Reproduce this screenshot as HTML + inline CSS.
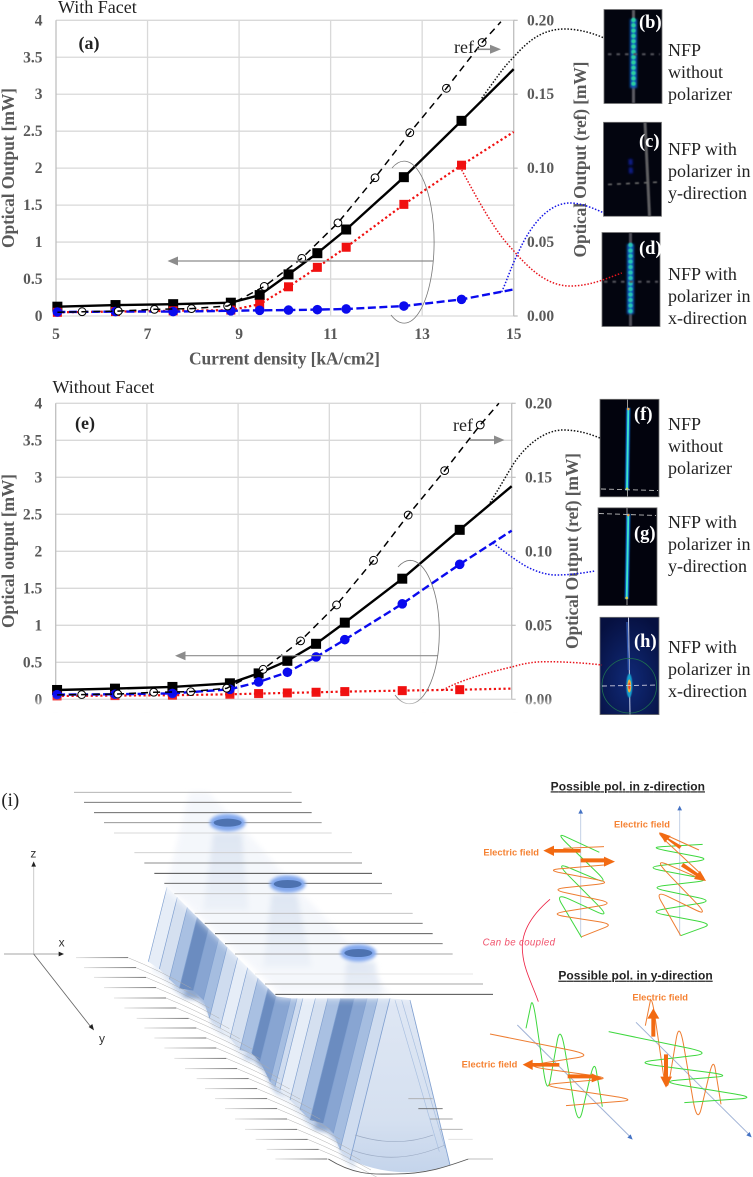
<!DOCTYPE html>
<html lang="en">
<head>
<meta charset="utf-8">
<title>Optical output versus current density with and without facet</title>
<style>
html,body{margin:0;padding:0;background:#fff}
svg{display:block}
.tick{font:bold 15.5px "Liberation Serif",serif;fill:#595959}
.atitle{font:bold 17.5px "Liberation Serif",serif;fill:#595959}
.ser{font:18px "Liberation Serif",serif;fill:#222}
.bold{font:bold 18px "Liberation Serif",serif;fill:#222}
.wb{font:bold 18.5px "Liberation Serif",serif;fill:#fff}
.head{font:bold 36px "Liberation Sans",sans-serif;fill:#222;text-decoration:underline}
.ef{font:bold 28px "Liberation Sans",sans-serif;fill:#f58233}
</style>
</head>
<body>
<svg id="fig" xmlns="http://www.w3.org/2000/svg" width="753" height="1177" viewBox="0 0 753 1177">
<defs>
<filter id="b1" filterUnits="userSpaceOnUse" x="0" y="0" width="753" height="1177"><feGaussianBlur stdDeviation="1"/></filter>
<filter id="b06" filterUnits="userSpaceOnUse" x="0" y="0" width="753" height="1177"><feGaussianBlur stdDeviation="0.6"/></filter>
<filter id="b5" x="-60%" y="-100%" width="220%" height="300%"><feGaussianBlur stdDeviation="5"/></filter>
<filter id="b6" x="-20%" y="-20%" width="140%" height="140%"><feGaussianBlur stdDeviation="6"/></filter>
<filter id="b8" x="-50%" y="-50%" width="200%" height="200%"><feGaussianBlur stdDeviation="8"/></filter>
<filter id="b14" x="-10%" y="-10%" width="120%" height="120%"><feGaussianBlur stdDeviation="12"/></filter>
<linearGradient id="fan" x1="0" y1="0" x2="0" y2="1"><stop offset="0" stop-color="#dfe7f4"/><stop offset=".7" stop-color="#d5e0f0"/><stop offset="1" stop-color="#c4d4eb"/></linearGradient>
<linearGradient id="col" x1="0" y1="0" x2="0" y2="1"><stop offset="0" stop-color="#d4deee" stop-opacity=".7"/><stop offset="1" stop-color="#dde5f2" stop-opacity=".35"/></linearGradient>
<linearGradient id="ribfade" x1="0" y1="0" x2="1" y2="0"><stop offset="0" stop-color="#ddd"/><stop offset="1" stop-color="#555"/></linearGradient>
<radialGradient id="hbg" cx="50%" cy="65%" r="70%"><stop offset="0" stop-color="#102a78"/><stop offset="1" stop-color="#061040"/></radialGradient>
</defs>

<g id="chart-a"></g>
<g id="chart-e"></g>

<text class="ser" x="58" y="13">With Facet</text>
<text class="ser" x="52.5" y="393">Without Facet</text>
<text class="bold" x="78.5" y="49">(a)</text>
<text class="bold" x="75" y="429">(e)</text>
<text class="ser" x="454" y="53">ref</text>
<text class="ser" x="453" y="431">ref</text>

<!-- axis titles -->
<text class="atitle" x="284.500" y="364.500" text-anchor="middle" textLength="191">Current density [kA/cm2]</text>
<text class="atitle" x="283" y="747.500" text-anchor="middle" textLength="191">Current density [kA/cm2]</text>
<text class="atitle" transform="translate(14,168) rotate(-90)" text-anchor="middle" textLength="160">Optical Output [mW]</text>
<text class="atitle" transform="translate(14,551) rotate(-90)" text-anchor="middle" textLength="154">Optical output [mW]</text>
<text class="atitle" transform="translate(586,159.500) rotate(-90)" text-anchor="middle" textLength="196">Optical Output (ref) [mW]</text>
<text class="atitle" transform="translate(578,551) rotate(-90)" text-anchor="middle" textLength="196">Optical Output (ref) [mW]</text>

<!-- NFP image b -->
<g>
<rect x="604" y="9.500" width="58" height="94" fill="#03050f" stroke="#777" stroke-width=".8"/>
<line x1="633.500" y1="10" x2="633.500" y2="103" stroke="#5a5a62" stroke-width="3" filter="url(#b06)"/>
<line x1="633.500" y1="19" x2="633.500" y2="88" stroke="#0a55b8" stroke-width="7" filter="url(#b1)"/>
<line x1="633.500" y1="20" x2="633.500" y2="87" stroke="#2bd0a0" stroke-width="4.500" stroke-linecap="round" stroke-dasharray="0.1 5.2" filter="url(#b06)"/>
<line x1="608" y1="54.300" x2="660" y2="54.300" stroke="#55555c" stroke-width="2" stroke-dasharray="3.500 5" filter="url(#b06)"/>
<text class="wb" x="639" y="28">(b)</text>
</g>
<!-- NFP image c -->
<g>
<rect x="603.500" y="122.300" width="58" height="94" fill="#03050f" stroke="#777" stroke-width=".8"/>
<line x1="645" y1="122.500" x2="649.500" y2="216" stroke="#5e5e62" stroke-width="3" filter="url(#b06)"/>
<line x1="630.500" y1="159" x2="631" y2="176" stroke="#0a1a86" stroke-width="4" stroke-dasharray="6 2.500" filter="url(#b1)"/>
<line x1="608" y1="184.500" x2="661" y2="182" stroke="#6a6a6a" stroke-width="1.600" stroke-dasharray="4 5" filter="url(#b06)"/>
<text class="wb" x="639" y="147">(c)</text>
</g>
<!-- NFP image d -->
<g>
<rect x="602" y="232.500" width="58" height="94" fill="#03050f" stroke="#777" stroke-width=".8"/>
<line x1="630.500" y1="233" x2="630.500" y2="326" stroke="#4e4e56" stroke-width="3" filter="url(#b06)"/>
<line x1="630.500" y1="244" x2="630.500" y2="314" stroke="#0a55b8" stroke-width="7" filter="url(#b1)"/>
<line x1="630.500" y1="245" x2="630.500" y2="313" stroke="#26c4b4" stroke-width="4.500" stroke-linecap="round" stroke-dasharray="0.1 5.4" filter="url(#b06)"/>
<line x1="604" y1="281.700" x2="658" y2="281.700" stroke="#55555c" stroke-width="2" stroke-dasharray="3.500 5" filter="url(#b06)"/>
<text class="wb" x="639" y="254">(d)</text>
</g>
<!-- NFP image f -->
<g>
<rect x="600" y="399.300" width="59" height="97.500" fill="#02030d" stroke="#777" stroke-width=".8"/>
<line x1="627.500" y1="399.500" x2="627.500" y2="496.500" stroke="#9a9a9a" stroke-width="1"/>
<line x1="628.300" y1="408" x2="627" y2="490" stroke="#0a6ad8" stroke-width="4" filter="url(#b06)"/>
<line x1="628.300" y1="408" x2="627" y2="490" stroke="#3ee6c8" stroke-width="1.800"/>
<circle cx="628.300" cy="409" r="1.300" fill="#f0a040"/><circle cx="627" cy="489" r="1.400" fill="#c8e040"/>
<line x1="601" y1="489" x2="658" y2="490.500" stroke="#bbb" stroke-width=".9" stroke-dasharray="5 3"/>
<text class="wb" x="634" y="420">(f)</text>
</g>
<!-- NFP image g -->
<g>
<rect x="598" y="507.800" width="59" height="97.800" fill="#02030d" stroke="#777" stroke-width=".8"/>
<line x1="627" y1="508" x2="627" y2="605" stroke="#9a9a9a" stroke-width="1"/>
<line x1="628.300" y1="514" x2="626.700" y2="599" stroke="#0a6ad8" stroke-width="4" filter="url(#b06)"/>
<line x1="628.300" y1="514" x2="626.700" y2="599" stroke="#3ee6c8" stroke-width="1.800"/>
<circle cx="628.300" cy="515" r="1.300" fill="#f0a040"/><circle cx="626.700" cy="598" r="1.400" fill="#d8d040"/>
<line x1="599" y1="513.500" x2="656" y2="515.500" stroke="#bbb" stroke-width=".9" stroke-dasharray="5 3"/>
<text class="wb" x="634" y="539">(g)</text>
</g>
<!-- NFP image h -->
<g>
<rect x="600" y="617.300" width="59" height="97.300" fill="url(#hbg)" stroke="#777" stroke-width=".8"/>
<line x1="628.500" y1="617.500" x2="630" y2="714.500" stroke="#c8d0e8" stroke-width="1"/>
<line x1="627" y1="622" x2="628.500" y2="670" stroke="#2a50a8" stroke-width="1.500"/>
<circle cx="629.300" cy="685.700" r="27.300" fill="none" stroke="#1e7050" stroke-width=".8"/>
<ellipse cx="629.300" cy="685.700" rx="3" ry="12" fill="#18a0d0" filter="url(#b06)"/>
<ellipse cx="629.300" cy="686" rx="1.900" ry="6.500" fill="#f0b040"/>
<ellipse cx="629.300" cy="686" rx="1" ry="3.500" fill="#e84830"/>
<line x1="602" y1="686" x2="658" y2="685" stroke="#ccd" stroke-width=".9" stroke-dasharray="5 3"/>
<text class="wb" x="634" y="647">(h)</text>
</g>

<!-- annotation arrows and callouts -->
<g>
<line x1="177" y1="261" x2="433" y2="261" stroke="#8c8c8c" stroke-width="1.2"/>
<path d="M167.500,261L178,256.500V265.500Z" fill="#8c8c8c"/>
<line x1="477" y1="49.300" x2="491" y2="49.300" stroke="#8c8c8c" stroke-width="1.600"/>
<path d="M501,49.300L490,44.800V53.800Z" fill="#8c8c8c"/>
<path d="M391,315A30,81 0 1 0 392,168" fill="none" stroke="#777" stroke-width=".8"/>
<path d="M481.700,98.300C495,80 505,65 513,58C530,38 545,29 565,29C580,29 595,34 604,38" fill="none" stroke="#111" stroke-width="1.500" stroke-dasharray="1.500 1.700"/>
<path d="M501.700,292C507,280 512,265 518,253C532,222 550,203 570,203C582,203 595,209 604,213" fill="none" stroke="#1414e6" stroke-width="1.500" stroke-dasharray="1.500 1.700"/>
<path d="M461.700,170C478,200 495,232 513,250C530,270 548,286 570,286C590,286 605,279 621.700,273" fill="none" stroke="#e8141c" stroke-width="1.500" stroke-dasharray="1.500 1.700"/>
</g>
<g>
<line x1="185" y1="655.700" x2="438" y2="655.700" stroke="#8c8c8c" stroke-width="1.200"/>
<path d="M175,655.700L185.500,651.200V660.200Z" fill="#8c8c8c"/>
<line x1="470" y1="440" x2="495" y2="440" stroke="#8c8c8c" stroke-width="1.600"/>
<path d="M504.500,440L494,435.500V444.500Z" fill="#8c8c8c"/>
<path d="M395,695A29.300,71.700 0 0 0 410,703.700A29.300,71.700 0 0 0 410,560.300A29.300,71.700 0 0 0 398,567" fill="none" stroke="#777" stroke-width=".8"/>
<path d="M490,502.700C498,490 505,478 511.700,466.700C525,445 545,430 563,430C578,430 590,434 600,438" fill="none" stroke="#111" stroke-width="1.500" stroke-dasharray="1.500 1.700"/>
<path d="M493,543C505,552 515,560 526.700,566.700C537,572 547,575 556.700,575C570,575 583,573 595,571" fill="none" stroke="#1414e6" stroke-width="1.500" stroke-dasharray="1.500 1.700"/>
<path d="M443,690C460,680 490,672 513,666.700C525,663 535,661.700 546.700,661.700C565,661.700 585,663 602,665" fill="none" stroke="#e8141c" stroke-width="1.500" stroke-dasharray="1.500 1.700"/>
</g>

<!-- NFP captions -->
<text class="ser" x="668" y="56">NFP<tspan x="668" y="78">without</tspan><tspan x="668" y="100">polarizer</tspan></text>
<text class="ser" x="668" y="155">NFP with<tspan x="668" y="177">polarizer in</tspan><tspan x="668" y="199">y-direction</tspan></text>
<text class="ser" x="668" y="280">NFP with<tspan x="668" y="302">polarizer in</tspan><tspan x="668" y="324">x-direction</tspan></text>
<text class="ser" x="668" y="430">NFP<tspan x="668" y="452">without</tspan><tspan x="668" y="474">polarizer</tspan></text>
<text class="ser" x="668" y="528">NFP with<tspan x="668" y="550">polarizer in</tspan><tspan x="668" y="572">y-direction</tspan></text>
<text class="ser" x="668" y="653">NFP with<tspan x="668" y="675">polarizer in</tspan><tspan x="668" y="697">x-direction</tspan></text>

<!-- Panel (i): structure, zoom coordinates scaled by 1/3 -->
<g id="structure" transform="translate(0,770) scale(.33333)">
<g id="stripes-blur" filter="url(#b6)" opacity=".75" transform="translate(12,28)"></g>
<g id="stripes"></g>
<path d="M1170,685L1230,690L1350,1185Q1200,1235 1050,1170Z" fill="url(#fan)" stroke="none"/>
<path d="M1170,685L1050,1170" stroke="#7f9fd0" stroke-width="2.500" fill="none"/>
<path d="M1230,690L1350,1185" stroke="#7f9fd0" stroke-width="2.500" fill="none"/>
<path d="M1185,690L1318,1145M1205,690L1335,1135" stroke="#a8bfe0" stroke-width="2" fill="none"/>
<path d="M1065,1095Q1190,1135 1300,1095M1055,1140Q1190,1190 1335,1125" stroke="#9cabc4" stroke-width="2" fill="none"/>
<polygon points="-200,-200 1700,-200 1700,560 1240,682 835,682 560,407 470,330 380,200 -200,200" fill="#fff" filter="url(#b14)"/>
<g filter="url(#b8)" fill="#eef2f9" opacity=".6">
<polygon points="568,67 625,67 780,230 840,300 1020,490 1170,670 840,670 560,400 498,350"/>
</g>
<polygon points="640,190 725,190 745,420 610,420" fill="url(#col)" filter="url(#b8)"/>
<polygon points="815,372 890,372 935,590 790,590" fill="url(#col)" filter="url(#b8)"/>
<polygon points="1040,575 1125,575 1145,680 1030,680" fill="url(#col)" filter="url(#b8)"/>
<text x="4" y="108" style="font:57px 'Liberation Serif',serif;fill:#222">(i)</text>
<g fill="none" stroke-width="2.500">
<line x1="222" y1="67" x2="875" y2="67" stroke="#aaa"/><line x1="252" y1="97" x2="905" y2="97" stroke="#666"/><line x1="282" y1="128" x2="935" y2="128" stroke="#555"/><line x1="312" y1="158" x2="965" y2="158" stroke="#888"/><line x1="342" y1="189" x2="995" y2="189" stroke="#ccc"/>
<line x1="403" y1="248" x2="1056" y2="248" stroke="#ccc"/><line x1="433" y1="279" x2="1086" y2="279" stroke="#666"/><line x1="463" y1="310" x2="1116" y2="310" stroke="#333"/><line x1="493" y1="340" x2="1146" y2="340" stroke="#555"/><line x1="523" y1="371" x2="1176" y2="371" stroke="#bbb"/>
<line x1="584" y1="430" x2="1238" y2="430" stroke="#bbb"/><line x1="614" y1="460" x2="1268" y2="460" stroke="#666"/><line x1="645" y1="491" x2="1298" y2="491" stroke="#444"/><line x1="675" y1="521" x2="1328" y2="521" stroke="#666"/><line x1="705" y1="552" x2="1358" y2="552" stroke="#888"/>
<line x1="765" y1="612" x2="1419" y2="612" stroke="#ddd"/><line x1="795" y1="642" x2="1449" y2="642" stroke="#888"/><line x1="826" y1="673" x2="1479" y2="673" stroke="#333"/>
</g>
<g>
<ellipse cx="683" cy="158" rx="54" ry="26" fill="#82a8ee" filter="url(#b5)"/><ellipse cx="683" cy="158" rx="42" ry="12" fill="#4d72b0"/>
<ellipse cx="863" cy="342" rx="54" ry="26" fill="#82a8ee" filter="url(#b5)"/><ellipse cx="863" cy="342" rx="42" ry="12" fill="#4d72b0"/>
<ellipse cx="1075" cy="549" rx="54" ry="26" fill="#82a8ee" filter="url(#b5)"/><ellipse cx="1075" cy="549" rx="42" ry="12" fill="#4d72b0"/>
</g>
<g id="lower-ribs" fill="none"></g>
<path d="M985,1167C1070,1220 1130,1212 1185,1212C1280,1212 1340,1190 1405,1167" fill="none" stroke="#555" stroke-width="2.500"/>
<g stroke-width="2.500">
<line x1="1225" y1="986" x2="1298" y2="986" stroke="#aaa"/><line x1="1255" y1="1016" x2="1328" y2="1016" stroke="#666"/><line x1="1290" y1="1047" x2="1358" y2="1047" stroke="#888"/><line x1="1320" y1="1078" x2="1388" y2="1078" stroke="#aaa"/><line x1="1345" y1="1108" x2="1418" y2="1108" stroke="#ddd"/><line x1="1405" y1="1167" x2="1479" y2="1167" stroke="#aaa"/>
</g>
<g>
<line x1="101" y1="552" x2="101" y2="282" stroke="#ccc" stroke-width="3"/><path d="M101,274L94,290H108Z" fill="#222"/>
<line x1="12" y1="552" x2="178" y2="552" stroke="#888" stroke-width="2.500"/><path d="M192,552L176,545V559Z" fill="#222"/>
<line x1="101" y1="552" x2="272" y2="770" stroke="#666" stroke-width="2.500"/><path d="M282,781L266,771L277,762Z" fill="#222"/>
<text x="100" y="263" text-anchor="middle" style="font:36px 'Liberation Sans',sans-serif;fill:#333">z</text>
<text x="185" y="530" text-anchor="middle" style="font:36px 'Liberation Sans',sans-serif;fill:#333">x</text>
<text x="306" y="818" text-anchor="middle" style="font:36px 'Liberation Sans',sans-serif;fill:#333">y</text>
</g>
</g>

<!-- Polarization panels, zoom coordinates scaled by 1/3 -->
<g id="polar" transform="translate(450,770) scale(.33333)">
<text class="head" x="302" y="61" textLength="463">Possible  pol. in z-direction</text>
<text class="head" x="325" y="629" textLength="463">Possible  pol. in y-direction</text>
<g stroke="#c3d0e6" stroke-width="3" fill="#4472c4">
<line x1="392" y1="500" x2="392" y2="125"/><path d="M392,117L385,131H399Z" stroke="none"/>
<line x1="689" y1="497" x2="689" y2="115"/><path d="M689,107L682,121H696Z" stroke="none"/>
<line x1="202" y1="765" x2="540" y2="1100" stroke="#9fb2d6"/><path d="M548,1109L532,1103L542,1093Z" stroke="none"/>
<line x1="558" y1="757" x2="897" y2="1093" stroke="#9fb2d6"/><path d="M905,1102L889,1096L899,1086Z" stroke="none"/>
</g>
<g id="waves" fill="none" stroke-width="3"></g>
<g fill="#f26a12">
<path d="M392,237V248H312V258L280,242L312,227V237Z"/>
<path d="M392,265V277H462V290L495,275L462,260V265Z"/>
<path d="M695,228L688,237L652,209L645,218L627,187L662,198L656,205Z"/>
<path d="M700,279L693,289L738,318L732,327L768,333L750,302L744,310Z"/>
<path d="M328,879V890H248V900L218,884L248,869V879Z"/>
<path d="M353,913V925H425V937L457,925L425,910V914Z"/>
<path d="M604,800H616V746H628L610,715L592,746H604Z"/>
<path d="M642,853H654V920H666L648,953L631,920H642Z"/>
</g>
<g>
<text class="ef" x="100" y="256" textLength="167">Electric field</text>
<text class="ef" x="492" y="172" textLength="168">Electric field</text>
<text class="ef" x="35" y="893" textLength="167">Electric field</text>
<text class="ef" x="547" y="692" textLength="167">Electric field</text>
</g>
<path d="M300,388C245,435 210,490 218,550C222,600 250,650 265,695" fill="none" stroke="#ee2244" stroke-width="2.500"/>
<text x="98" y="526" textLength="217" style="font:italic 29px 'Liberation Sans',sans-serif;fill:#f0506a">Can be coupled</text>
</g>

<script>
/* ---- chart data ---- */
var xTicks = [5, 7, 9, 11, 13, 15];
var yTicks = [0, 0.5, 1, 1.5, 2, 2.5, 3, 3.5, 4];
var yTickLabels = ['0', '0.5', '1', '1.5', '2', '2.5', '3', '3.5', '4'];
var y2Ticks = [0, 0.05, 0.1, 0.15, 0.2];
var y2TickLabels = ['0.00', '0.05', '0.10', '0.15', '0.20'];

var currentDensity = [5.03, 6.3, 7.56, 8.82, 9.45, 10.08, 10.71, 11.34, 12.6, 13.86, 15];
var refCurrentDensity = [5.03, 5.57, 6.36, 7.15, 7.96, 8.75, 9.55, 10.37, 11.16, 11.97, 12.73, 13.53, 14.31, 14.72];

var facetTotal = [0.126, 0.148, 0.16, 0.18, 0.283, 0.563, 0.85, 1.17, 1.878, 2.64, 3.34];
var facetXPol = [0.05, 0.06, 0.07, 0.08, 0.16, 0.395, 0.658, 0.93, 1.51, 2.04, 2.49];
var facetYPol = [0.054, 0.06, 0.06, 0.07, 0.077, 0.08, 0.086, 0.095, 0.135, 0.225, 0.36];
var facetRef = [0.0025, 0.0029, 0.0033, 0.0045, 0.005, 0.00675, 0.02, 0.039, 0.063, 0.0935, 0.124, 0.154, 0.185, 0.199];

var noFacetTotal = [0.126, 0.144, 0.167, 0.216, 0.35, 0.52, 0.75, 1.036, 1.63, 2.29, 2.88];
var noFacetYPol = [0.063, 0.068, 0.08, 0.135, 0.234, 0.365, 0.572, 0.806, 1.29, 1.824, 2.28];
var noFacetXPol = [0.045, 0.05, 0.055, 0.068, 0.077, 0.086, 0.095, 0.104, 0.117, 0.13, 0.144];
var noFacetRef = [0.003, 0.00315, 0.0036, 0.00475, 0.0052, 0.00745, 0.02025, 0.0395, 0.06375, 0.0939, 0.1245, 0.1545, 0.18535, 0.2];

var NS = 'http://www.w3.org/2000/svg';
function svgEl(tag, attrs) {
  var el = document.createElementNS(NS, tag);
  for (var k in attrs) el.setAttribute(k, attrs[k]);
  return el;
}

function drawChart(root, x0, x15, y0, y4, xLabelY, y2LabelX, ref, total, xPol, yPol, redName, blueName) {
  var xScale = function (v) { return x0 + (v - 5) * (x15 - x0) / 10; };
  var yScale = function (v) { return y0 - v * (y0 - y4) / 4; };
  var y2Scale = function (v) { return y0 - v * (y0 - y4) / 0.2; };

  yTicks.forEach(function (t, i) {
    var g = svgEl('line', {x1: x0, x2: x15 + (1), y1: yScale(t), y2: yScale(t), stroke: '#d9d9d9', 'stroke-width': 1.3});
    
    
    root.appendChild(g);
    var lab = svgEl('text', {x: x0 - 13.5, y: yScale(t) + 5, 'text-anchor': 'end', 'class': 'tick'});
    
    
    lab.textContent = yTickLabels[i];
    root.appendChild(lab);
  });
  xTicks.forEach(function (t) {
    var c = t === 5 || t === 15 ? '#bfbfbf' : '#d9d9d9';
    var g = svgEl('line', {x1: xScale(t), x2: xScale(t), y1: y4, y2: y0, stroke: c, 'stroke-width': 1.3});
    
    
    root.appendChild(g);
    var lab = svgEl('text', {x: xScale(t), y: xLabelY, 'text-anchor': 'middle', 'class': 'tick'});
    
    
    lab.textContent = String(t);
    root.appendChild(lab);
  });
  y2Ticks.forEach(function (t, i) {
    var g = svgEl('line', {x1: x15, x2: x15 + 4, y1: y2Scale(t), y2: y2Scale(t), stroke: '#bfbfbf', 'stroke-width': 1.2});
    
    
    root.appendChild(g);
    var lab = svgEl('text', {x: y2LabelX, y: y2Scale(t) + 5, 'class': 'tick'});
    
    
    lab.textContent = y2TickLabels[i];
    root.appendChild(lab);
  });

  function pathOf(xs, ys, sc) {
    return xs.map(function (v, i) { return (i ? 'L' : 'M') + xScale(v).toFixed(1) + ',' + sc(ys[i]).toFixed(1); }).join('');
  }

  var lineTotal = svgEl('path', {d: pathOf(currentDensity, total, yScale), fill: 'none', stroke: '#000', 'stroke-width': 2.4});
  
  
  root.appendChild(lineTotal);
  currentDensity.slice(0, -1).forEach(function (v, i) {
    var m = svgEl('rect', {x: xScale(v) - 5, y: yScale(total[i]) - 5, width: 10, height: 10, fill: '#000'});
    
    
    root.appendChild(m);
  });

  var lineRed = svgEl('path', {d: pathOf(currentDensity, xPol, yScale), fill: 'none', stroke: '#f01010', 'stroke-width': 2.2, 'stroke-dasharray': '2.2 2.6'});
  
  
  root.appendChild(lineRed);
  currentDensity.slice(0, -1).forEach(function (v, i) {
    var m = svgEl('rect', {x: xScale(v) - 4.5, y: yScale(xPol[i]) - 4.5, width: 9, height: 9, fill: '#f01010'});
    
    
    root.appendChild(m);
  });

  var lineBlue = svgEl('path', {d: pathOf(currentDensity, yPol, yScale), fill: 'none', stroke: '#0a0aee', 'stroke-width': 2.4, 'stroke-dasharray': '8 3.5'});
  
  
  root.appendChild(lineBlue);
  currentDensity.slice(0, -1).forEach(function (v, i) {
    var m = svgEl('circle', {cx: xScale(v), cy: yScale(yPol[i]), r: 4.8, fill: '#0a0aee'});
    
    
    root.appendChild(m);
  });

  refCurrentDensity.slice(1, -1).forEach(function (v, i) {
    var m = svgEl('circle', {cx: xScale(v), cy: y2Scale(ref[i + 1]), r: 3.9, fill: '#fff', stroke: '#000', 'stroke-width': 1});
    
    
    root.appendChild(m);
  });
  var lineRef = svgEl('path', {d: pathOf(refCurrentDensity, ref, y2Scale), fill: 'none', stroke: '#000', 'stroke-width': 1.5, 'stroke-dasharray': '7 5'});
  
  
  root.appendChild(lineRef);
}

drawChart(document.getElementById('chart-a'), 56, 513.7, 316, 20.3, 339, 527, facetRef, facetTotal, facetXPol, facetYPol, 'line-x-polarized', 'line-y-polarized');
drawChart(document.getElementById('chart-e'), 55.7, 511.7, 699.3, 403.3, 722.5, 525, noFacetRef, noFacetTotal, noFacetXPol, noFacetYPol, 'line-x-polarized', 'line-y-polarized');

/* ---- illustration: blue stripes of the structure ---- */
var bandShades = ['#e6edf7', '#d5e0f0', '#a9c0e2', '#6b8cc0', '#88a5d2', '#a5bde0', '#cfdcef'];
var bandFeet = [[445,575],[478,597],[508,628],[538,655],[580,662],[610,690],[628,745],[660,775],
                [690,805],[720,840],[755,850],[780,875],[810,935],[825,950],[840,960],
                [870,990],[900,1020],[930,1050],[970,1060],[1000,1090],[1020,1140],[1050,1170]];
function topOf(f) {
  var y = (f[0] + 0.25 * f[1] - 150) / 1.25;
  if (y > 685) y = 685;
  return [f[0] + 0.25 * (f[1] - y), y];
}
function addBands(parent, withEdges) {
  bandFeet.slice(0, -1).forEach(function (f, i) {
    var n = bandFeet[i + 1], a = topOf(f), b = topOf(n);
    var poly = svgEl('polygon', {points: f.join(',') + ' ' + n.join(',') + ' ' + b.join(',') + ' ' + a.join(','), fill: bandShades[i % 7]});
    
    
    parent.appendChild(poly);
    if (withEdges) {
      var edge = svgEl('line', {x1: f[0], y1: f[1], x2: a[0], y2: a[1], stroke: '#7f9fd0', 'stroke-width': 2});
      
      
      parent.appendChild(edge);
    }
  });
}
addBands(document.getElementById('stripes-blur'), false);
addBands(document.getElementById('stripes'), true);

var lowerRibStarts = [[228,563],[252,593],[282,622],[312,653],[342,684],[373,714],[410,745],[433,774],[463,804],[493,834],[523,865],[555,896],[590,926],[615,956],[645,986],[675,1016],[705,1047],[735,1078],[767,1108],[800,1138],[826,1167]];
var ribsRoot = document.getElementById('lower-ribs');
lowerRibStarts.forEach(function (s, i) {
  var ex = s[0] + 156, ey = s[1];
  var flat = svgEl('rect', {x: s[0], y: ey - 1.2, width: 156, height: 2.4, fill: 'url(#ribfade)'});
  
  
  ribsRoot.appendChild(flat);
  if (i < 20) {
    var curve = svgEl('path', {d: 'M' + ex + ',' + ey + 'Q' + (ex + 90) + ',' + (ey + 36) + ' ' + (ex + 190) + ',' + (ey + 92), stroke: '#aaa', 'stroke-width': 1.4});
    
    
    ribsRoot.appendChild(curve);
  }
});

/* ---- illustration: polarization waves ---- */
function wavePath(pts, t) {
  var d = 'M' + pts[0].join(',');
  for (var i = 1; i < pts.length - 1; i++) {
    var p = pts[i], a = pts[i - 1], b = pts[i + 1];
    d += 'L' + (p[0] + (a[0] - p[0]) * t) + ',' + (p[1] + (a[1] - p[1]) * t);
    d += 'Q' + p[0] + ',' + p[1] + ' ' + (p[0] + (b[0] - p[0]) * t) + ',' + (p[1] + (b[1] - p[1]) * t);
  }
  return d + 'L' + pts[pts.length - 1].join(',');
}
var wavesRoot = document.getElementById('waves');
function addWave(name, color, pts, t) {
  var el = svgEl('path', {d: wavePath(pts, t), stroke: color});
  
  
  wavesRoot.appendChild(el);
}
var GREEN = '#3ed83e', ORANGE = '#ee7d31';
addWave('green-wave-1', GREEN, [[395,503],[315,368],[483,445],[314,275],[480,345],[314,185],[448,247]], 0.25);
addWave('orange-wave-1', ORANGE, [[395,500],[491,462],[297,432],[496,400],[300,358],[488,338],[287,300],[462,285]], 0.25);
addWave('orange-wave-1-top', ORANGE, [[462,230],[340,235]], 0.2);
addWave('green-wave-2', GREEN, [[692,497],[788,462],[594,425],[793,393],[597,352],[786,330],[584,292],[786,268],[597,232],[758,223]], 0.25);
addWave('orange-wave-2', ORANGE, [[692,497],[614,360],[778,440],[610,265],[783,340],[610,178],[747,240]], 0.25);
addWave('green-wave-3', GREEN, [[228,775],[248,680],[292,980],[331,760],[385,1075],[433,868],[457,1010]], 0.25);
addWave('orange-wave-3', ORANGE, [[120,792],[433,855],[222,888],[490,925],[265,945],[565,990],[348,1007]], 0.25);
addWave('orange-wave-4', ORANGE, [[586,767],[605,672],[650,980],[688,750],[742,1065],[790,862],[813,1003]], 0.25);
addWave('green-wave-4', GREEN, [[476,785],[790,850],[552,878],[850,917],[627,935],[922,983],[703,998]], 0.25);
</script>
</svg>
</body>
</html>
